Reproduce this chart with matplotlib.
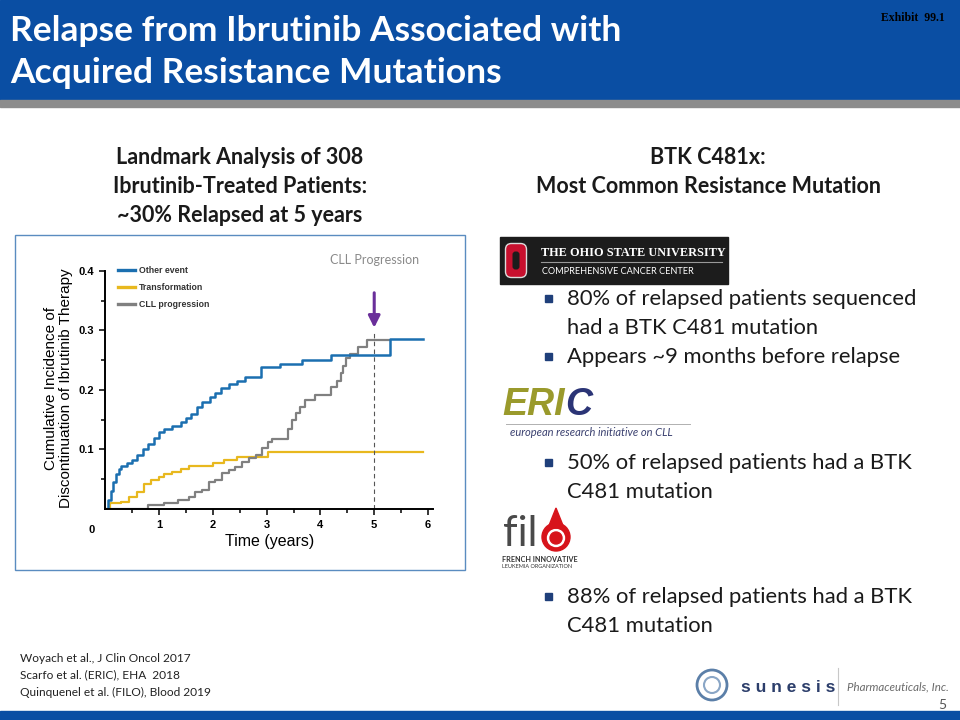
import matplotlib
matplotlib.use("Agg")
import matplotlib.pyplot as plt
from matplotlib.patches import Rectangle, Circle, FancyBboxPatch
from matplotlib.lines import Line2D

# ---- data ----
other_t = [0, 0.05, 0.1, 0.15, 0.2, 0.25, 0.3, 0.4, 0.5, 0.6, 0.7, 0.8, 0.9, 1.0, 1.1,
           1.25, 1.4, 1.5, 1.6, 1.7, 1.8, 1.95, 2.05, 2.15, 2.3, 2.45, 2.6, 2.9, 3.25,
           3.65, 4.2, 5.3, 5.9]
other_v = [0, 0.015, 0.03, 0.045, 0.058, 0.067, 0.072, 0.077, 0.082, 0.09, 0.1, 0.11,
           0.12, 0.13, 0.135, 0.14, 0.147, 0.153, 0.16, 0.172, 0.18, 0.188, 0.195, 0.204,
           0.21, 0.215, 0.222, 0.238, 0.244, 0.25, 0.258, 0.285, 0.285]

transf_t = [0, 0.08, 0.3, 0.45, 0.6, 0.72, 0.85, 1.0, 1.1, 1.25, 1.4, 1.55, 2.0, 2.2,
            2.45, 3.02, 5.9]
transf_v = [0, 0.01, 0.012, 0.02, 0.028, 0.042, 0.048, 0.053, 0.058, 0.063, 0.068,
            0.073, 0.078, 0.083, 0.087, 0.095, 0.095]

cll_t = [0, 0.35, 0.8, 1.1, 1.35, 1.55, 1.67, 1.8, 1.92, 2.05, 2.17, 2.3, 2.42, 2.55,
         2.67, 2.8, 2.92, 3.02, 3.1, 3.4, 3.47, 3.55, 3.62, 3.72, 3.9, 4.2, 4.3, 4.38,
         4.42, 4.47, 4.55, 4.7, 4.87, 5.3]
cll_v = [0, 0.0, 0.006, 0.01, 0.015, 0.021, 0.028, 0.032, 0.045, 0.049, 0.06, 0.065,
         0.071, 0.079, 0.085, 0.09, 0.102, 0.112, 0.118, 0.135, 0.149, 0.162, 0.172,
         0.183, 0.191, 0.205, 0.215, 0.228, 0.24, 0.253, 0.261, 0.272, 0.284, 0.284]

series_names = ["Other event", "Transformation", "CLL progression"]
series_colors = ["#1b6fb0", "#e8b81e", "#808080"]

x_ticks = [1, 2, 3, 4, 5, 6]
y_ticks = [0.1, 0.2, 0.3, 0.4]

left_head = ["Landmark Analysis of 308", "Ibrutinib-Treated Patients:", "~30% Relapsed at 5 years"]
right_head = ["BTK C481x:", "Most Common Resistance Mutation"]
bullets_osu = [["80% of relapsed patients sequenced", "had a BTK C481 mutation"],
               ["Appears ~9 months before relapse"]]
bullet_eric = ["50% of relapsed patients had a BTK", "C481 mutation"]
bullet_filo = ["88% of relapsed patients had a BTK", "C481 mutation"]
refs = ["Woyach et al., J Clin Oncol 2017",
        "Scarfo et al. (ERIC), EHA  2018",
        "Quinquenel et al. (FILO), Blood 2019"]

BODY = ["Lato", "DejaVu Sans"]
ARIAL = ["Liberation Sans", "DejaVu Sans"]
BLUE = "#0a4ea3"

fig = plt.figure(figsize=(9.6, 7.2), dpi=100)

# slide background layer in pixel coordinates
bg = fig.add_axes([0, 0, 1, 1])
bg.set_xlim(0, 960)
bg.set_ylim(720, 0)
bg.axis("off")

bg.add_patch(Rectangle((0, 0), 960, 100, color=BLUE))
bg.add_patch(Rectangle((0, 100), 960, 7, color="#8c8c8c"))
bg.add_patch(Rectangle((0, 711), 960, 9, color=BLUE))

bg.text(10, 31, "Relapse from Ibrutinib Associated with", color="white", fontsize=25.5,
        fontweight="bold", family=BODY, va="center")
bg.text(10, 73, "Acquired Resistance Mutations", color="white", fontsize=25.5,
        fontweight="bold", family=BODY, va="center")
bg.text(945, 18, "Exhibit  99.1", color="black", fontsize=8.5, fontweight="bold",
        family=["Liberation Serif", "DejaVu Serif"], ha="right", va="center")

for i, s in enumerate(left_head):
    bg.text(240, 158 + 28.5 * i, s, ha="center", va="center", fontsize=15.5,
            fontweight="bold", family=BODY, color="#1a1a1a")
for i, s in enumerate(right_head):
    bg.text(708, 158 + 28.5 * i, s, ha="center", va="center", fontsize=15.5,
            fontweight="bold", family=BODY, color="#1a1a1a")

# embedded chart frame
bg.add_patch(Rectangle((15, 235), 450, 335, facecolor="white", edgecolor="#5a8cc0", lw=1))

# Ohio State logo
bg.add_patch(Rectangle((500, 237), 228, 47, color="#1c1c1c"))
bg.add_patch(FancyBboxPatch((507, 245), 18, 31, boxstyle="round,pad=1.5,rounding_size=6",
                            facecolor="#c8102e", edgecolor="#dddddd", lw=1))
bg.add_patch(FancyBboxPatch((513, 252), 6, 17, boxstyle="round,pad=0.5,rounding_size=3",
                            facecolor="#1c1c1c", edgecolor="none"))
bg.text(541, 253, "THE OHIO STATE UNIVERSITY", color="white", fontsize=8.8, fontweight="bold",
        family=["Liberation Serif", "DejaVu Serif"], va="center")
bg.plot([541, 722], [262, 262], color="#999999", lw=0.8)
bg.text(542, 271, "COMPREHENSIVE CANCER CENTER", color="white", fontsize=6.6,
        family=BODY, va="center")

# ERIC logo
eri = bg.text(502, 405, "ERI", color="#9a9a2c", fontsize=27, fontweight="heavy",
              style="italic", family=ARIAL, va="center")
fig.canvas.draw()
bb = eri.get_window_extent().transformed(bg.transData.inverted())
bg.text(bb.x1 + 0.5, 405, "C", color="#2b3476", fontsize=27, fontweight="heavy",
        style="italic", family=ARIAL, va="center")
bg.plot([506, 690], [424, 424], color="#b0b0b0", lw=0.7)
bg.text(510, 433, "european research initiative on CLL", color="#3b4170", fontsize=8,
        style="italic", family=BODY, va="center")

# FILO logo
bg.text(503, 534, "fil", color="#4a4a4a", fontsize=30, family=BODY, va="center")
bg.add_patch(Circle((556, 537), 14, color="#d7141b"))
bg.add_patch(Circle((556, 538), 8.5, color="white"))
bg.add_patch(Circle((556, 538), 6, color="#d7141b"))
bg.fill([548, 556, 564], [528, 508, 528], color="#d7141b")
bg.text(502, 559, "FRENCH INNOVATIVE", color="#333333", fontsize=5.2, fontweight="bold",
        family=BODY, va="center")
bg.text(502, 566, "LEUKEMIA ORGANIZATION", color="#333333", fontsize=4, family=BODY,
        va="center")

# bullets
def bullet(y, lines):
    bg.add_patch(Rectangle((545, y - 4), 7, 7, color="#1f3f7a"))
    for j, s in enumerate(lines):
        bg.text(567, y + 28.5 * j, s, color="#1a1a1a", fontsize=15.8, family=BODY,
                va="center")

bullet(299, bullets_osu[0])
bullet(357, bullets_osu[1])
bullet(463, bullet_eric)
bullet(597, bullet_filo)

# references
for i, r in enumerate(refs):
    bg.text(20, 658 + 17 * i, r, fontsize=8.6, family=BODY, color="#222222", va="center")

# Sunesis logo
bg.add_patch(Circle((712, 685), 15, facecolor="none", edgecolor="#5b7fa8", lw=2))
bg.add_patch(Circle((712, 685), 8, facecolor="none", edgecolor="#8aa6c6", lw=1.5))
bg.text(741, 687, "s u n e s i s", color="#2c3e6b", fontsize=12.5, fontweight="heavy",
        family=ARIAL, va="center")
bg.plot([838, 838], [668, 705], color="#c8c8c8", lw=0.8)
bg.text(847, 687, "Pharmaceuticals, Inc.", color="#6a6a6a", fontsize=8.3, style="italic",
        family=BODY, va="center")
bg.text(946, 705, "5", color="#555555", fontsize=10, family=BODY, ha="right", va="center")

# ---- embedded chart ----
ax = fig.add_axes([105.2 / 960, 1 - 509 / 720, 328.2 / 960, 241 / 720])
ax.set_xlim(0, 6.1)
ax.set_ylim(0, 0.405)
ax.patch.set_alpha(0)

ax.step(transf_t, transf_v, where="post", color=series_colors[1], lw=1.6)
ax.step(cll_t, cll_v, where="post", color=series_colors[2], lw=1.6)
ax.step(other_t, other_v, where="post", color=series_colors[0], lw=1.8)

ax.plot([5, 5], [0, 0.298], color="#555555", lw=0.8, ls=(0, (4, 3)))
ax.annotate("", xy=(5, 0.3), xytext=(5, 0.368),
            arrowprops=dict(arrowstyle="-|>,head_width=0.35,head_length=0.7",
                            color="#6a2f9a", lw=2.2))
ax.text(5.0, 0.418, "CLL Progression", color="#8a8a8a", fontsize=9, family=BODY,
        ha="center", va="center")

for s in ["top", "right"]:
    ax.spines[s].set_visible(False)
ax.spines["left"].set_bounds(0, 0.4)
ax.spines["left"].set_linewidth(1.4)
ax.spines["bottom"].set_linewidth(1.4)
ax.set_xticks(x_ticks)
ax.set_xticks([0.5, 1.5, 2.5, 3.5, 4.5, 5.5], minor=True)
ax.set_yticks(y_ticks)
ax.set_yticks([0.05, 0.15, 0.25, 0.35], minor=True)
ax.tick_params(which="both", direction="out", width=1.1, labelsize=8, length=4, pad=4)
ax.tick_params(which="minor", length=3)
for lab in ax.get_xticklabels() + ax.get_yticklabels():
    lab.set_fontweight("bold")
    lab.set_family(ARIAL)
ax.text(-0.25, -0.035, "0", fontsize=8, fontweight="bold", ha="center", va="center",
        family=ARIAL)

ax.set_xlabel("Time (years)", fontsize=11.5, family=ARIAL, fontstretch="condensed",
              labelpad=3)
ax.set_ylabel("Cumulative Incidence of\nDiscontinuation of Ibrutinib Therapy", fontsize=11,
              family=ARIAL, fontstretch="condensed", labelpad=4, linespacing=1.05)

handles = [Line2D([], [], color=c, lw=2.4) for c in series_colors]
leg = ax.legend(handles, series_names, loc="upper left", bbox_to_anchor=(0.015, 1.04),
                frameon=False, handlelength=1.9, labelspacing=0.9, handletextpad=0.5,
                prop={"weight": "bold", "size": 6.3, "family": ARIAL})
for t in leg.get_texts():
    t.set_color("#333333")

fig.savefig("out.png", dpi=100)
